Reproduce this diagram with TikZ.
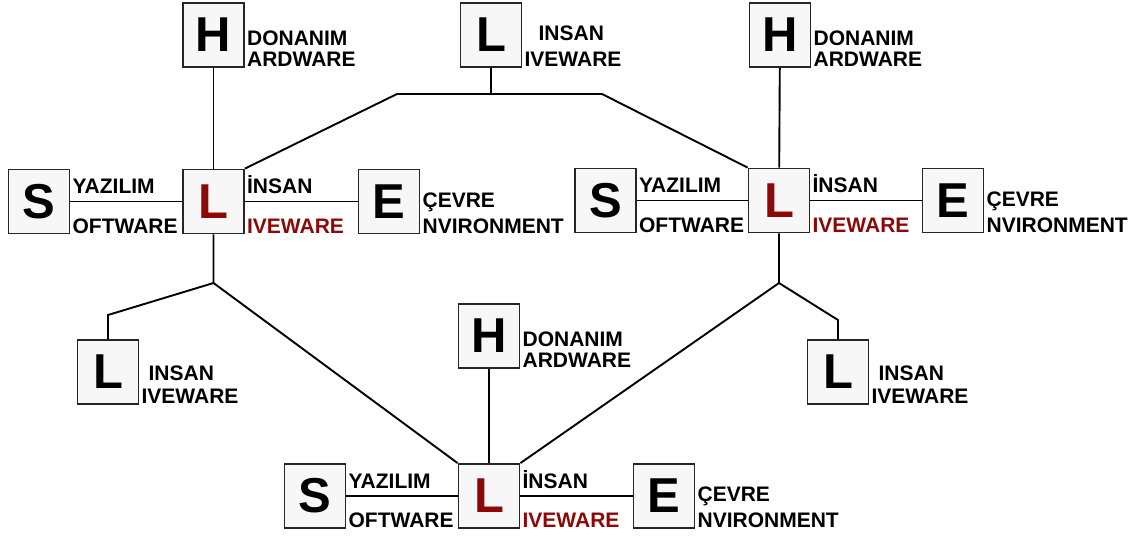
\documentclass[tikz,border=0pt]{standalone}
\usepackage{fontspec}
\setmainfont{Liberation Sans}
\definecolor{livered}{RGB}{140,8,8}
\tikzset{
  box/.style={draw=black!85, line width=1.8pt, fill=black!3, minimum width=61pt,
    minimum height=64pt, inner sep=0pt, font=\fontsize{49}{49}\selectfont\bfseries},
  lbl/.style={anchor=base west, inner sep=0pt, font=\fontsize{21}{21}\selectfont\bfseries},
  wire/.style={line width=1.9pt},
}
% two-line tag right of a box: node, raise of the upper line, x shift, upper text, lower text, lower colour
\newcommand\boxtags[6]{%
  \node[lbl] (#1-up) at ([shift={(#3,#2)}]#1.south east) {#4};
  \node[lbl, text=#6] (#1-lo) at ([shift={(2pt,1pt)}]#1.south east) {#5};}

\begin{document}
\begin{tikzpicture}[x=1pt, y=-1pt]
  \useasboundingbox (0,0) rectangle (1138,538);

  %%%%% BOXES %%%%%
  % left group
  \node[box] (SL) at (39,201.5) {S};
  \node[box, text=livered] (LL) at (213.5,201.5) {L};
  \node[box] (EL) at (389,201.5) {E};
  \node[box] (HL) at (213.5,35) {H};
  % top
  \node[box] (LT) at (491,35) {L};
  % right group
  \node[box] (SR) at (605.5,200.5) {S};
  \node[box, text=livered] (LR) at (779,200.5) {L};
  \node[box] (ER) at (953,200.5) {E};
  \node[box] (HR) at (780,35) {H};
  % bottom group
  \node[box] (SB) at (315,496) {S};
  \node[box, text=livered] (LB) at (489,496) {L};
  \node[box] (EB) at (664,496) {E};
  \node[box] (HB) at (489,336) {H};
  % side ones
  \node[box] (LX1) at (108,372) {L};
  \node[box] (LX2) at (838,372) {L};

  %%%%% TAGS %%%%%
  \boxtags{SL}{41pt}{2pt}{YAZILIM}{OFTWARE}{black}
  \boxtags{LL}{41pt}{2pt}{İNSAN}{IVEWARE}{livered}
  \boxtags{EL}{27pt}{2pt}{ÇEVRE}{NVIRONMENT}{black}
  \boxtags{HL}{22pt}{2pt}{DONANIM}{ARDWARE}{black}
  \boxtags{LT}{27pt}{16pt}{INSAN}{IVEWARE}{black}
  \boxtags{SR}{41pt}{2pt}{YAZILIM}{OFTWARE}{black}
  \boxtags{LR}{41pt}{2pt}{İNSAN}{IVEWARE}{livered}
  \boxtags{ER}{27pt}{2pt}{ÇEVRE}{NVIRONMENT}{black}
  \boxtags{HR}{22pt}{2pt}{DONANIM}{ARDWARE}{black}
  \boxtags{SB}{40pt}{2pt}{YAZILIM}{OFTWARE}{black}
  \boxtags{LB}{40pt}{2pt}{İNSAN}{IVEWARE}{livered}
  \boxtags{EB}{27pt}{2pt}{ÇEVRE}{NVIRONMENT}{black}
  \boxtags{HB}{22pt}{2pt}{DONANIM}{ARDWARE}{black}
  \boxtags{LX1}{24pt}{9pt}{INSAN}{IVEWARE}{black}
  \boxtags{LX2}{24pt}{9pt}{INSAN}{IVEWARE}{black}

  %%%%% WIRES %%%%%
  \coordinate (tl) at (397,94);
  \coordinate (tm) at (491,94);
  \coordinate (tr) at (602,94);
  \coordinate (jl) at (213.5,283);
  \coordinate (kl) at (108,315);
  \coordinate (jr) at (779,283);
  \coordinate (kr) at (838,320);

  \draw[wire] (SL) -- (LL) -- (EL);
  \draw[wire] (HL) -- (LL);
  \draw[wire] (SR) -- (LR) -- (ER);
  \draw[wire] (HR) -- (LR);
  \draw[wire] (SB) -- (LB) -- (EB);
  \draw[wire] (HB) -- (LB);

  \draw[wire] (LL.north east) -- (tl) -- (tr) -- (LR.north west);
  \draw[wire] (LT) -- (tm);

  \draw[wire] (LL) -- (jl) -- (LB.north west);
  \draw[wire] (jl) -- (kl) -- (LX1);
  \draw[wire] (LR) -- (jr) -- (LB.north east);
  \draw[wire] (jr) -- (kr) -- (LX2);
\end{tikzpicture}
\end{document}
